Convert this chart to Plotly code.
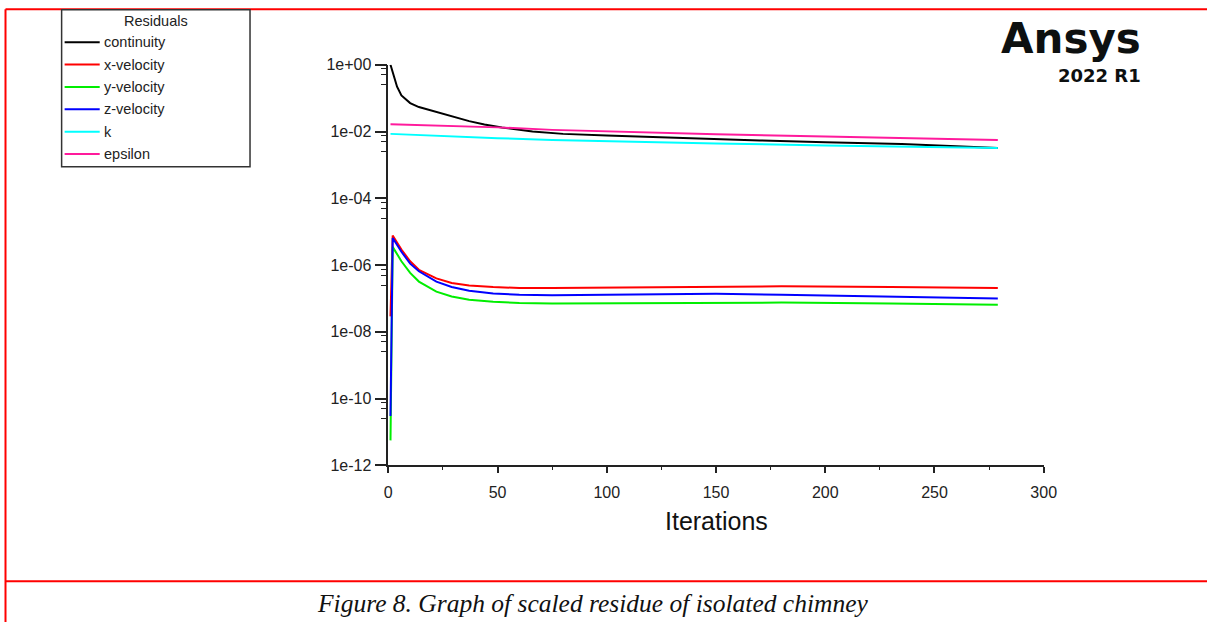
import plotly.graph_objects as go

# ---- residual history (iteration, scaled residual) ----
iters_cont = [1, 2, 3, 4, 6, 8, 10, 14, 21, 29, 37, 44, 52, 66, 80, 100, 120, 143, 170, 200, 235, 260, 279]
continuity = [1.0, 0.60, 0.35, 0.22, 0.12, 0.089, 0.071, 0.054, 0.040, 0.028, 0.0205, 0.0162, 0.0132,
              0.0100, 0.0085, 0.0076, 0.0068, 0.0060, 0.0054, 0.0048, 0.0042, 0.0036, 0.0032]

iters_vel = [1, 2, 6, 10, 14, 22, 29, 37, 48, 60, 75, 100, 150, 180, 230, 279]
x_velocity = [2.9e-8, 7.6e-6, 2.9e-6, 1.3e-6, 7.2e-7, 4.0e-7, 2.9e-7, 2.45e-7, 2.2e-7, 2.05e-7,
              2.05e-7, 2.1e-7, 2.25e-7, 2.3e-7, 2.2e-7, 2.05e-7]
y_velocity = [5.6e-12, 3.5e-6, 1.3e-6, 5.8e-7, 3.2e-7, 1.6e-7, 1.15e-7, 9.1e-8, 7.9e-8, 7.3e-8,
              7.0e-8, 7.2e-8, 7.6e-8, 7.5e-8, 7.0e-8, 6.5e-8]
z_velocity = [3.0e-11, 6.5e-6, 2.5e-6, 1.1e-6, 6.5e-7, 3.2e-7, 2.2e-7, 1.7e-7, 1.4e-7, 1.3e-7,
              1.25e-7, 1.3e-7, 1.38e-7, 1.3e-7, 1.15e-7, 1.0e-7]

iters_turb = [1, 25, 50, 75, 100, 150, 200, 250, 279]
k_res = [0.0085, 0.0072, 0.0063, 0.0056, 0.0051, 0.0044, 0.0038, 0.0034, 0.0032]
epsilon = [0.0165, 0.0148, 0.0133, 0.0112, 0.0100, 0.0083, 0.0071, 0.0062, 0.0056]

names = ["continuity", "x-velocity", "y-velocity", "z-velocity", "k", "epsilon"]
colors = ["#000000", "#ff0000", "#00ee00", "#0000ff", "#00ffff", "#ff1a9c"]
series = [(iters_cont, continuity), (iters_vel, x_velocity), (iters_vel, y_velocity),
          (iters_vel, z_velocity), (iters_turb, k_res), (iters_turb, epsilon)]

x_ticks = [0, 50, 100, 150, 200, 250, 300]
y_ticks = [1, 1e-2, 1e-4, 1e-6, 1e-8, 1e-10, 1e-12]
y_tick_text = ["1e+00", "1e-02", "1e-04", "1e-06", "1e-08", "1e-10", "1e-12"]

# figure size and the affine map from sheet positions to figure pixels
W, H = 1222, 631
SX, OX = 0.984, 4.5
SY, OY = 0.974, 8.2


def px(x):
    return max(0.0, min(1.0, (x - OX) / SX / W))


def py(y):
    return max(0.0, min(1.0, 1 - (y - OY) / SY / H))


fig = go.Figure()
for (it, vals), name, col in zip(series, names, colors):
    fig.add_trace(go.Scatter(x=it, y=vals, mode="lines", name=name,
                             line=dict(color=col, width=2), showlegend=False))

axis_font = dict(family="Liberation Sans, Arial, sans-serif", size=16, color="#222")
fig.update_layout(
    width=W, height=H,
    margin=dict(l=0, r=0, t=0, b=0),
    paper_bgcolor="white", plot_bgcolor="white",
    xaxis=dict(
        domain=[px(388), px(1042)], range=[0, 300],
        showgrid=False, zeroline=False,
        showline=True, linecolor="#222", linewidth=1.5,
        tickmode="array", tickvals=x_ticks, ticks="outside", ticklen=6, tickwidth=1.5,
        tickcolor="#222", tickfont=axis_font, ticklabelstandoff=6,
        minor=dict(tickmode="array", tickvals=[25, 75, 125, 175, 225, 275],
                   ticks="outside", ticklen=3, tickwidth=1.2, tickcolor="#222"),
    ),
    yaxis=dict(
        type="log", domain=[py(466), py(65)], range=[-12, 0],
        showgrid=False, zeroline=False,
        showline=True, linecolor="#222", linewidth=1.5,
        tickmode="array", tickvals=y_ticks, ticktext=y_tick_text,
        ticks="outside", ticklen=12, tickwidth=1.5, tickcolor="#222", tickfont=axis_font,
        minor=dict(tickmode="array",
                   tickvals=[m * f for m in y_ticks for f in (0.75, 0.5, 0.25)],
                   ticks="outside", ticklen=6, tickwidth=1.2, tickcolor="#222"),
    ),
)

shapes = []
annotations = []

# page frame and caption separator
red = "#ff0000"
top = 1 - 1.2 / H
shapes.append(dict(type="line", xref="paper", yref="paper", x0=px(6), x1=1, y0=top, y1=top,
                   line=dict(color=red, width=2)))
shapes.append(dict(type="line", xref="paper", yref="paper", x0=px(6), x1=px(6), y0=top, y1=0,
                   line=dict(color=red, width=2)))
shapes.append(dict(type="line", xref="paper", yref="paper", x0=px(6), x1=1, y0=py(582), y1=py(582),
                   line=dict(color=red, width=2)))

# legend box
shapes.append(dict(type="rect", xref="paper", yref="paper", x0=px(62), x1=px(250), y0=py(167), y1=py(10),
                   line=dict(color="#333", width=1.5), fillcolor="white"))
leg_font = dict(family="Liberation Sans, Arial, sans-serif", size=14.5, color="#222")
annotations.append(dict(xref="paper", yref="paper", x=px(156), y=py(21), text="Residuals",
                        showarrow=False, xanchor="center", yanchor="middle", font=leg_font))
row_y = [42.5, 64.8, 87.2, 109.6, 132.0, 154.4]
for name, col, ry in zip(names, colors, row_y):
    shapes.append(dict(type="line", xref="paper", yref="paper", x0=px(65), x1=px(100),
                       y0=py(ry), y1=py(ry), line=dict(color=col, width=2)))
    annotations.append(dict(xref="paper", yref="paper", x=px(102), y=py(ry), text=name,
                            showarrow=False, xanchor="left", yanchor="middle", font=leg_font))

# axis title
annotations.append(dict(xref="paper", yref="paper", x=px(715), y=py(522), text="Iterations",
                        showarrow=False, xanchor="center", yanchor="middle",
                        font=dict(family="Liberation Sans, Arial, sans-serif", size=25, color="#111")))

# product badge
badge_font = "DejaVu Sans, Lato, sans-serif"
annotations.append(dict(xref="paper", yref="paper", x=px(1141), y=py(39), text="Ansys",
                        showarrow=False, xanchor="right", yanchor="middle",
                        font=dict(family=badge_font, size=42, color="#0d1010", weight="bold")))
annotations.append(dict(xref="paper", yref="paper", x=px(1141), y=py(76), text="2022 R1",
                        showarrow=False, xanchor="right", yanchor="middle",
                        font=dict(family=badge_font, size=18, color="#0d1010", weight="bold")))

# caption
annotations.append(dict(xref="paper", yref="paper", x=px(592), y=py(604),
                        text="<i>Figure 8. Graph of scaled residue of isolated chimney</i>",
                        showarrow=False, xanchor="center", yanchor="middle",
                        font=dict(family="Liberation Serif, Times New Roman, serif", size=25.5, color="#111")))

fig.update_layout(shapes=shapes, annotations=annotations)
fig.write_html("out.html")
